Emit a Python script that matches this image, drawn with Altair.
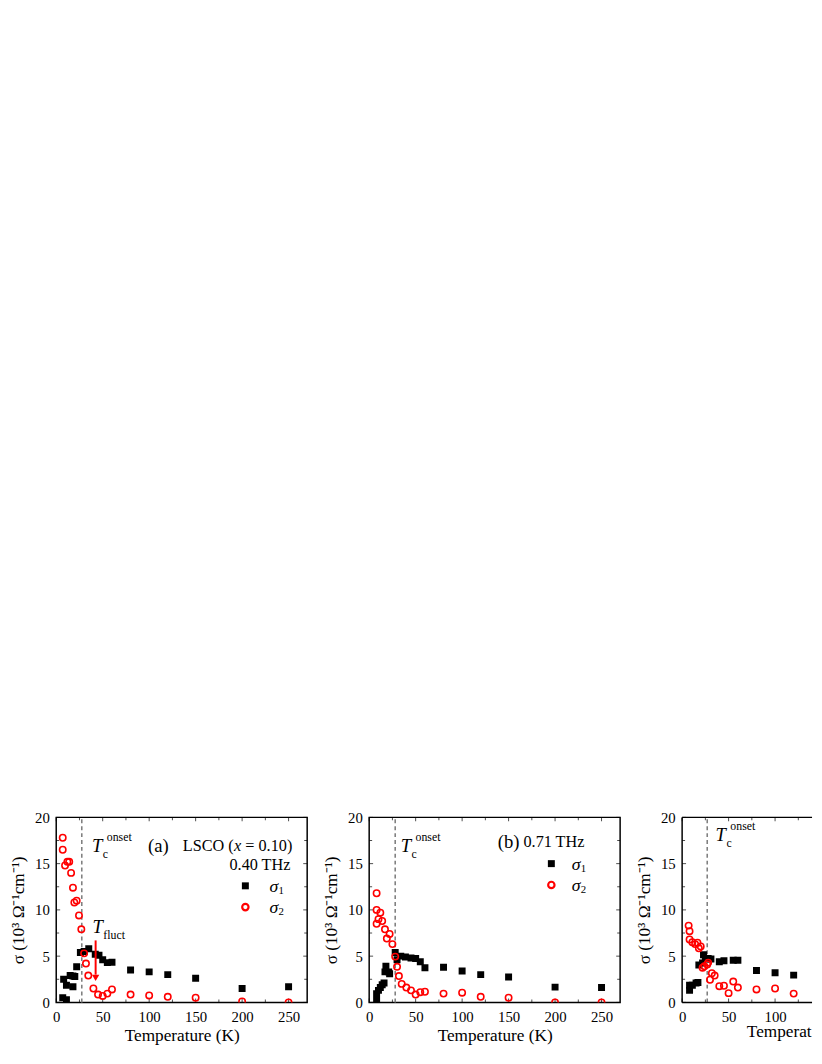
import altair as alt
import pandas as pd

# ---------------- data ----------------
# Panel (a): LSCO (x = 0.10), 0.40 THz
a_T1 = [7, 8, 11, 11, 15, 18, 18, 20, 22, 26, 30, 35, 42, 46, 50, 55, 60, 80, 100, 120, 150, 200, 250]
a_S1 = [0.5, 2.5, 0.3, 1.85, 2.9, 1.7, 2.85, 2.8, 3.85, 5.4, 5.5, 5.8, 5.2, 5.1, 4.6, 4.3, 4.35, 3.5, 3.3, 3.0, 2.6, 1.5, 1.7]
a_T2 = [7, 7, 9.5, 12, 14, 16, 18, 19.5, 22, 24.5, 27, 30, 32, 34.5, 40, 45, 50, 55, 60, 80, 100, 120, 150, 200, 250]
a_S2 = [17.8, 16.5, 14.8, 15.2, 15.2, 14.0, 12.4, 10.8, 11.0, 9.4, 7.9, 5.3, 4.2, 2.9, 1.5, 0.85, 0.7, 0.95, 1.4, 0.85, 0.75, 0.6, 0.5, 0.1, 0.0]

# Panel (b): 0.71 THz
b_T1 = [8, 8, 10, 12, 14, 16, 17, 18, 21, 22, 28, 30, 34, 39, 45, 50, 55, 60, 80, 100, 120, 150, 200, 250]
b_S1 = [0.2, 0.95, 1.3, 1.6, 1.9, 2.1, 3.3, 3.9, 3.3, 3.1, 5.4, 4.6, 5.0, 4.9, 4.8, 4.75, 4.4, 3.75, 3.8, 3.4, 3.0, 2.75, 1.65, 1.6]
b_T2 = [8, 8, 8, 10, 12, 14, 17, 19, 22, 25, 28, 30, 32, 35, 40, 45, 50, 55, 60, 80, 100, 120, 150, 200, 250]
b_S2 = [11.8, 10.0, 8.5, 9.0, 9.7, 8.8, 7.9, 6.9, 7.4, 6.3, 4.95, 3.85, 2.85, 2.0, 1.6, 1.3, 0.85, 1.1, 1.15, 0.95, 1.05, 0.6, 0.5, 0.0, 0.0]

# Panel (c) (only the part inside the picture)
c_T1 = [8, 8, 11, 15, 17, 18, 22, 23, 25, 28, 31, 40, 45, 55, 60, 80, 100, 120]
c_S1 = [1.3, 1.85, 1.85, 2.1, 2.15, 4.05, 4.25, 5.15, 4.7, 4.75, 4.7, 4.4, 4.5, 4.55, 4.55, 3.45, 3.2, 2.95]
c_T2 = [7, 8, 8, 11, 14, 16.5, 18, 20, 22, 24, 27, 28, 30, 32, 35, 40, 45, 50, 55, 60, 80, 100, 120]
c_S2 = [8.3, 7.7, 6.8, 6.5, 6.3, 6.45, 5.85, 6.05, 3.75, 3.9, 4.1, 4.3, 2.45, 3.15, 2.9, 1.75, 1.8, 1.0, 2.25, 1.6, 1.4, 1.5, 0.95]

TC_ONSET = [27.5, 28.0, 27.0]
T_FLUCT = 42.4

X_MAJOR = [0, 50, 100, 150, 200, 250]
X_MINOR = [25, 75, 125, 175, 225]
Y_MAJOR = [0, 5, 10, 15, 20]
Y_MINOR = [2.5, 7.5, 12.5, 17.5]
C_XLABELS = [0, 50, 100]          # x labels of panel (c) that lie inside the picture
X_TITLE = "Temperature (K)"
Y_TITLE = "σ (10³ Ω⁻¹cm⁻¹)"

# ---------------- styling ----------------
W, H = 255, 188
XMAX = 270
WC = 132                      # visible part of panel (c)
KX = W / XMAX
KY = H / 20.0                 # px per unit of sigma
FONT = "Liberation Serif"
RED = "#ff0000"
TIT_OFF = 30.5                # px from frame to x-title centre (panel c text mark)
TIT_START_C = 69.6            # where the (cut) x title of panel (c) starts, in K


def axes(xmax, x_values=X_MAJOR, x_title=X_TITLE):
    xs = alt.Scale(domain=[0, xmax], nice=False, zero=False)
    ys = alt.Scale(domain=[0, 20], nice=False, zero=False)
    xax = alt.Axis(values=x_values, grid=False, ticks=False, domain=False, labelFont=FONT,
                   labelFontSize=15, labelColor="black", labelPadding=7, title=x_title,
                   titleFont=FONT, titleFontSize=17.5, titleFontWeight="normal", titleColor="black",
                   titlePadding=3, labelFlush=False, labelOverlap=False)
    yax = alt.Axis(values=Y_MAJOR, grid=False, ticks=False, domain=False, labelFont=FONT,
                   labelFontSize=15, labelColor="black", labelPadding=7, title=Y_TITLE,
                   titleFont=FONT, titleFontSize=17.5, titleFontWeight="normal", titleColor="black",
                   titlePadding=7, labelFlush=False)
    return alt.X("T:Q", scale=xs, axis=xax), alt.Y("s:Q", scale=ys, axis=yax)


def build(X, Y, w, xmax, T1, S1, T2, S2, tc, extra, right_ticks=True):
    def txt(T, s, label, size, italic=False, align="left", dx=0, dy=0, color="black", limit=0):
        df = pd.DataFrame({"T": [T], "s": [s], "label": [label]})
        kw = dict(font=FONT, fontSize=size, fontStyle="italic" if italic else "normal",
                  align=align, baseline="middle", dx=dx, dy=dy, color=color)
        if limit:
            kw["limit"] = limit
            kw["ellipsis"] = "\u200b"
        return alt.Chart(df).mark_text(**kw).encode(x=X, y=Y, text="label:N")

    layers = []
    # dashed T_c onset line
    layers.append(alt.Chart(pd.DataFrame({"T": [tc, tc], "s": [0, 20]}))
                  .mark_line(color="#808080", strokeWidth=1.6, strokeDash=[4, 3]).encode(x=X, y=Y))
    # inward ticks (only those inside the panel)
    for vals, ln in ((X_MAJOR, 4), (X_MINOR, 3)):
        df = pd.DataFrame({"T": [v for v in vals if v < xmax]})
        layers.append(alt.Chart(df).mark_tick(orient="vertical", size=ln, thickness=1, color="black")
                      .encode(x=X, y=alt.value(H - ln / 2)))
        layers.append(alt.Chart(df).mark_tick(orient="vertical", size=ln, thickness=1, color="black")
                      .encode(x=X, y=alt.value(ln / 2)))
    for vals, ln in ((Y_MAJOR, 4), (Y_MINOR, 3)):
        df = pd.DataFrame({"s": vals})
        layers.append(alt.Chart(df).mark_tick(orient="horizontal", size=ln, thickness=1, color="black")
                      .encode(y=Y, x=alt.value(ln / 2)))
        if right_ticks:
            layers.append(alt.Chart(df).mark_tick(orient="horizontal", size=ln, thickness=1, color="black")
                          .encode(y=Y, x=alt.value(w - ln / 2)))
    # data
    d1 = pd.DataFrame({"T": T1, "s": S1})
    d2 = pd.DataFrame({"T": T2, "s": S2})
    layers.append(alt.Chart(d1).mark_point(shape="square", filled=True, color="black", size=50, opacity=1,
                                           clip=True).encode(x=X, y=Y))
    layers.append(alt.Chart(d2).mark_point(shape="circle", filled=False, color=RED, size=42, strokeWidth=1.6,
                                           opacity=1, clip=True).encode(x=X, y=Y))
    for e in extra:
        kind = e[0]
        if kind == "text":
            layers.append(txt(*e[1:-1], **e[-1]))
        elif kind == "tc":
            T, s = e[1], e[2]
            layers += [txt(T, s, "T", 19, italic=True),
                       txt(T, s, "c", 12, dx=11, dy=8),
                       txt(T, s, "onset", 12, dx=15, dy=-9)]
        elif kind == "legend":
            Tm, sm1, sm2, Tt = e[1:]
            layers += [alt.Chart(pd.DataFrame({"T": [Tm], "s": [sm1]}))
                       .mark_point(shape="square", filled=True, color="black", size=50, opacity=1)
                       .encode(x=X, y=Y),
                       alt.Chart(pd.DataFrame({"T": [Tm], "s": [sm2]}))
                       .mark_point(shape="circle", filled=False, color=RED, size=42, strokeWidth=2.2, opacity=1)
                       .encode(x=X, y=Y),
                       txt(Tt, sm1, "σ", 18, italic=True, dy=1),
                       txt(Tt, sm1, "1", 11, dx=9, dy=5),
                       txt(Tt, sm2, "σ", 18, italic=True, dy=1),
                       txt(Tt, sm2, "2", 11, dx=9, dy=5)]
        elif kind == "arrow":
            T = e[1]
            layers.append(alt.Chart(pd.DataFrame({"T": [T], "s": [6.7], "s2": [3.0]}))
                          .mark_rule(color=RED, strokeWidth=2).encode(x=X, y=Y, y2="s2:Q"))
            layers.append(alt.Chart(pd.DataFrame({"T": [T], "s": [2.65]}))
                          .mark_point(shape="triangle-down", filled=True, color=RED, size=55, opacity=1)
                          .encode(x=X, y=Y))
    return layers


# Panel (a)
Xa, Ya = axes(XMAX)
pa = alt.layer(*build(Xa, Ya, W, XMAX, a_T1, a_S1, a_T2, a_S2, TC_ONSET[0], [
    ("tc", 38.5, 16.9),
    ("text", 110, 16.9, "(a)", 19, {"align": "center"}),
    ("text", 254, 16.9, "LSCO (", 16.5, {"align": "right", "dx": -59.5}),
    ("text", 254, 16.9, "x", 16.5, {"align": "right", "dx": -52, "italic": True}),
    ("text", 254, 16.9, " = 0.10)", 16.5, {"align": "right"}),
    ("text", 252, 14.8, "0.40 THz", 16.5, {"align": "right"}),
    ("arrow", T_FLUCT),
    ("text", 39, 8.1, "T", 19, {"italic": True}),
    ("text", 39, 8.1, "fluct", 12, {"dx": 11, "dy": 8}),
    ("legend", 203.5, 12.6, 10.3, 229.5),
])).properties(width=W, height=H)

# Panel (b)
Xb, Yb = axes(XMAX)
pb = alt.layer(*build(Xb, Yb, W, XMAX, b_T1, b_S1, b_T2, b_S2, TC_ONSET[1], [
    ("tc", 34, 16.9),
    ("text", 150, 17.3, "(b)", 19, {"align": "center"}),
    ("text", 166, 17.3, "0.71 THz", 16.5, {}),
    ("legend", 196, 15.0, 12.7, 218),
])).properties(width=W, height=H)

# Panel (c): only its left part lies inside the picture; the x title is a text mark
# cut at the picture edge.
XC_MAX = XMAX * WC / W
Xc, Yc = axes(XC_MAX, x_values=C_XLABELS, x_title="")
frame_c = [
    alt.Chart(pd.DataFrame({"T": [0]})).mark_rule(color="black", strokeWidth=1.5)
    .encode(x=alt.value(0), y=alt.value(0), y2=alt.value(H)),
    alt.Chart(pd.DataFrame({"T": [0]})).mark_rule(color="black", strokeWidth=1.5)
    .encode(x=alt.value(0), x2=alt.value(WC), y=alt.value(0)),
    alt.Chart(pd.DataFrame({"T": [0]})).mark_rule(color="black", strokeWidth=1.5)
    .encode(x=alt.value(0), x2=alt.value(WC), y=alt.value(H)),
]
pc = alt.layer(*(build(Xc, Yc, WC, XC_MAX, c_T1, c_S1, c_T2, c_S2, TC_ONSET[2], [
    ("tc", 36, 18.1),
    ("text", TIT_START_C, -TIT_OFF / KY, X_TITLE, 17.5,
     {"align": "left", "limit": WC - TIT_START_C * KX + 1}),
], right_ticks=False) + frame_c)).properties(
    width=WC, height=H, view=alt.ViewBackground(stroke="transparent"))

chart = alt.hconcat(pa, pb, pc, spacing=14).properties(
    padding={"top": 806, "left": 1, "right": 0, "bottom": 0}, background="white"
).configure_view(stroke="black", strokeWidth=1.5)

chart.save("out.html", embed_options={"renderer": "svg", "actions": False})
